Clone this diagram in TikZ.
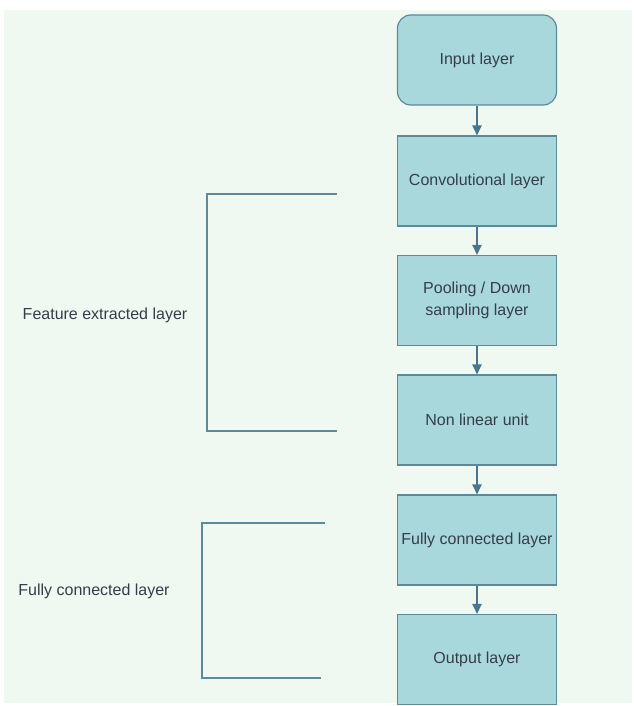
\documentclass[tikz,border=0pt]{standalone}
\usepackage{fontspec}
\setmainfont{Liberation Sans}
\usetikzlibrary{arrows.meta}
\definecolor{bgGreen}{RGB}{240,249,241}
\definecolor{boxFill}{RGB}{169,216,220}
\definecolor{boxLine}{RGB}{92,138,152}
\definecolor{flowLine}{RGB}{74,117,140}
\definecolor{txtGray}{RGB}{52,62,72}
\begin{document}
\begin{tikzpicture}[x=0.75pt,y=0.75pt,yscale=-1,xscale=1,
  layer/.style={draw=boxLine,fill=boxFill,line width=0.9pt,text=txtGray,font=\fontsize{12}{16.5}\selectfont,align=center,minimum width=119.25pt,minimum height=67.5pt,inner sep=1pt},
  flow/.style={draw=flowLine,line width=1pt,-{Triangle[width=7pt,length=7.5pt]}},
  brace/.style={draw=boxLine,line width=1pt},
  sidelabel/.style={text=txtGray,font=\fontsize{12}{14}\selectfont,inner sep=0.75pt}]
\useasboundingbox (0,0) rectangle (634,706);
% background
\fill [white] (0,0) rectangle (634,706);
\fill [bgGreen] (4,10) rectangle (632,703);

% Layer boxes
\node [layer,rounded corners=10pt] (input) at (477,60) {Input layer};
\node [layer] (conv) at (477,181) {Convolutional layer};
\node [layer] (pool) at (477,300.5) {Pooling / Down\\sampling layer};
\node [layer] (nonlin) at (477,420) {Non linear unit};
\node [layer] (fc) at (477,540) {Fully connected layer};
\node [layer] (output) at (477,659.5) {Output layer};

% Arrows
\draw [flow] (input) -- (conv);
\draw [flow] (conv) -- (pool);
\draw [flow] (pool) -- (nonlin);
\draw [flow] (nonlin) -- (fc);
\draw [flow] (fc) -- (output);

% Brackets
\draw [brace] (337,194) -- (207,194) -- (207,431) -- (337,431);
\draw [brace] (325,523) -- (202,523) -- (202,678) -- (321,678);

% Text Node
\node [sidelabel] (featlbl) at (105,315) {Feature extracted layer};
% Text Node
\node [sidelabel] (fclbl) at (94,591) {Fully connected layer};

\end{tikzpicture}
\end{document}
